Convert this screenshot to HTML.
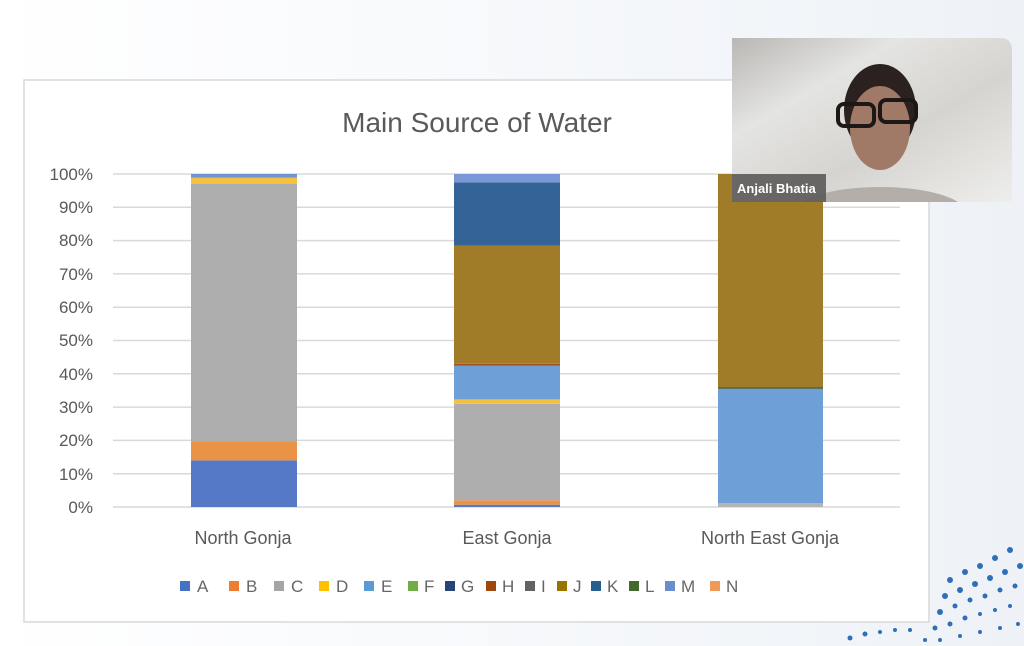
<!DOCTYPE html>
<html><head><meta charset="utf-8"><style>
html,body{margin:0;padding:0;width:1024px;height:646px;overflow:hidden;background:#fafbfc;font-family:"Liberation Sans",sans-serif}
</style></head><body>
<svg width="1024" height="646" viewBox="0 0 1024 646" xmlns="http://www.w3.org/2000/svg">
<defs>
<linearGradient id="bgR" x1="0" x2="1"><stop offset="0" stop-color="#ffffff"/><stop offset="1" stop-color="#eef2f7"/></linearGradient>
<linearGradient id="cam" x1="0" y1="0" x2="1" y2="1"><stop offset="0" stop-color="#b9b7b4"/><stop offset="0.3" stop-color="#e4e4e2"/><stop offset="0.6" stop-color="#d6d4d0"/><stop offset="1" stop-color="#eeeeec"/></linearGradient>
<clipPath id="camclip"><path d="M732 38 H1000 Q1012 38 1012 50 V202 H732 Z"/></clipPath>
</defs>
<rect x="0" y="0" width="1024" height="646" fill="url(#bgR)"/>
<rect x="24" y="80" width="905" height="542" fill="#fff" stroke="#d9d9d9" stroke-width="1.5"/>
<text x="477" y="132" font-size="28" fill="#595959" text-anchor="middle">Main Source of Water</text>
<g stroke="#d9d9d9" stroke-width="1.5">
<line x1="113" x2="900" y1="174" y2="174"/><line x1="113" x2="900" y1="207.3" y2="207.3"/><line x1="113" x2="900" y1="240.6" y2="240.6"/><line x1="113" x2="900" y1="273.9" y2="273.9"/><line x1="113" x2="900" y1="307.2" y2="307.2"/><line x1="113" x2="900" y1="340.5" y2="340.5"/><line x1="113" x2="900" y1="373.8" y2="373.8"/><line x1="113" x2="900" y1="407.1" y2="407.1"/><line x1="113" x2="900" y1="440.4" y2="440.4"/><line x1="113" x2="900" y1="473.7" y2="473.7"/><line x1="113" x2="900" y1="507" y2="507"/>
</g>
<g font-size="17" fill="#595959" text-anchor="end">
<text x="93" y="180">100%</text><text x="93" y="213">90%</text><text x="93" y="246">80%</text><text x="93" y="280">70%</text><text x="93" y="313">60%</text><text x="93" y="346">50%</text><text x="93" y="380">40%</text><text x="93" y="413">30%</text><text x="93" y="446">20%</text><text x="93" y="480">10%</text><text x="93" y="513">0%</text>
</g>
<rect x="191" y="460.4" width="106" height="46.6" fill="#5579c6"/>
<rect x="191" y="442" width="106" height="18.4" fill="#ea9246"/>
<rect x="191" y="184" width="106" height="258" fill="#aeaeae"/>
<rect x="191" y="177.7" width="106" height="6.3" fill="#f4c140"/>
<rect x="191" y="174" width="106" height="3.7" fill="#6e95d0"/>
<rect x="454" y="504.7" width="106" height="2.3" fill="#5579c6"/>
<rect x="454" y="500.3" width="106" height="4.4" fill="#ea9246"/>
<rect x="454" y="403.8" width="106" height="96.5" fill="#aeaeae"/>
<rect x="454" y="399.4" width="106" height="4.4" fill="#f4c140"/>
<rect x="454" y="365.5" width="106" height="33.9" fill="#6e9fd7"/>
<rect x="454" y="363.8" width="106" height="1.7" fill="#a4501a"/>
<rect x="454" y="245.6" width="106" height="118.2" fill="#a07c28"/>
<rect x="454" y="182.3" width="106" height="63.3" fill="#346398"/>
<rect x="454" y="174" width="106" height="8.3" fill="#7b98d6"/>
<rect x="718" y="503" width="105" height="4" fill="#b4b4b4"/>
<rect x="718" y="388.8" width="105" height="114.2" fill="#6e9fd7"/>
<rect x="718" y="387.1" width="105" height="1.7" fill="#3d5c3a"/>
<rect x="718" y="174" width="105" height="213.1" fill="#a07c28"/>
<g font-size="18" fill="#595959" text-anchor="middle">
<text x="243" y="544">North Gonja</text><text x="507" y="544">East Gonja</text><text x="770" y="544">North East Gonja</text>
</g>
<g font-size="17" fill="#666">
<rect x="180" y="581" width="10" height="10" fill="#4472c4"/><text x="197" y="592">A</text>
<rect x="229" y="581" width="10" height="10" fill="#ed7d31"/><text x="246" y="592">B</text>
<rect x="274" y="581" width="10" height="10" fill="#a5a5a5"/><text x="291" y="592">C</text>
<rect x="319" y="581" width="10" height="10" fill="#ffc000"/><text x="336" y="592">D</text>
<rect x="364" y="581" width="10" height="10" fill="#5b9bd5"/><text x="381" y="592">E</text>
<rect x="408" y="581" width="10" height="10" fill="#70ad47"/><text x="424" y="592">F</text>
<rect x="445" y="581" width="10" height="10" fill="#264478"/><text x="461" y="592">G</text>
<rect x="486" y="581" width="10" height="10" fill="#9e480e"/><text x="502" y="592">H</text>
<rect x="525" y="581" width="10" height="10" fill="#636363"/><text x="541" y="592">I</text>
<rect x="557" y="581" width="10" height="10" fill="#997300"/><text x="573" y="592">J</text>
<rect x="591" y="581" width="10" height="10" fill="#255e91"/><text x="607" y="592">K</text>
<rect x="629" y="581" width="10" height="10" fill="#43682b"/><text x="645" y="592">L</text>
<rect x="665" y="581" width="10" height="10" fill="#698ed0"/><text x="681" y="592">M</text>
<rect x="710" y="581" width="10" height="10" fill="#f1975a"/><text x="726" y="592">N</text>
</g>
<g fill="#2e6fb8">
<circle cx="950" cy="580" r="3"/><circle cx="965" cy="572" r="3"/><circle cx="980" cy="566" r="3"/><circle cx="995" cy="558" r="3"/><circle cx="1010" cy="550" r="3"/>
<circle cx="945" cy="596" r="3"/><circle cx="960" cy="590" r="3"/><circle cx="975" cy="584" r="3"/><circle cx="990" cy="578" r="3"/><circle cx="1005" cy="572" r="3"/><circle cx="1020" cy="566" r="3"/>
<circle cx="940" cy="612" r="3"/><circle cx="955" cy="606" r="2.5"/><circle cx="970" cy="600" r="2.5"/><circle cx="985" cy="596" r="2.5"/><circle cx="1000" cy="590" r="2.5"/><circle cx="1015" cy="586" r="2.5"/>
<circle cx="935" cy="628" r="2.5"/><circle cx="950" cy="624" r="2.5"/><circle cx="965" cy="618" r="2.5"/><circle cx="980" cy="614" r="2"/><circle cx="995" cy="610" r="2"/><circle cx="1010" cy="606" r="2"/>
<circle cx="850" cy="638" r="2.5"/><circle cx="865" cy="634" r="2.5"/><circle cx="880" cy="632" r="2"/><circle cx="895" cy="630" r="2"/><circle cx="910" cy="630" r="2"/><circle cx="925" cy="640" r="2"/><circle cx="940" cy="640" r="2"/><circle cx="960" cy="636" r="2"/><circle cx="980" cy="632" r="2"/><circle cx="1000" cy="628" r="2"/><circle cx="1018" cy="624" r="2"/>
</g>
<g clip-path="url(#camclip)">
<rect x="732" y="38" width="280" height="164" fill="url(#cam)"/>
<ellipse cx="880" cy="212" rx="85" ry="25" fill="#b3aea7"/>
<ellipse cx="880" cy="110" rx="36" ry="46" fill="#2b2220"/>
<ellipse cx="880" cy="128" rx="30" ry="42" fill="#a07a66"/>
<rect x="838" y="104" width="36" height="22" rx="6" fill="none" stroke="#1c1816" stroke-width="4"/>
<rect x="880" y="100" width="36" height="22" rx="6" fill="none" stroke="#1c1816" stroke-width="4"/>
</g>
<rect x="732" y="174" width="94" height="28" fill="#5c5a58" opacity="0.9"/>
<text x="737" y="193" font-size="13" font-weight="bold" fill="#ffffff">Anjali Bhatia</text>
</svg>
</body></html>
